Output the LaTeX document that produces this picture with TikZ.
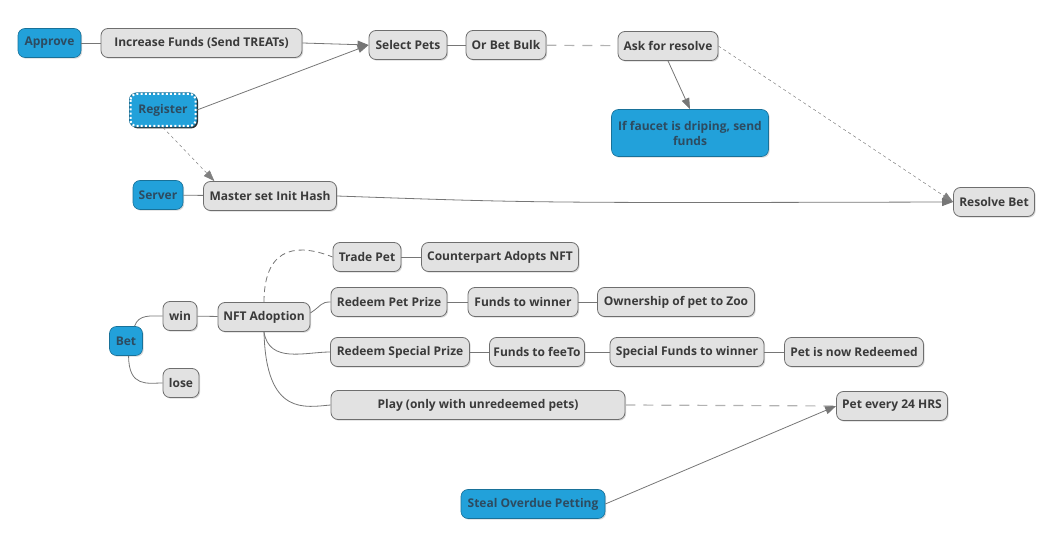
\documentclass[tikz,border=0pt]{standalone}
\usepackage{fontspec}
\setmainfont{Open Sans}
\usetikzlibrary{arrows.meta,shadows}

\definecolor{boxgray}{HTML}{E2E2E2}
\definecolor{boxline}{HTML}{6E6E6E}
\definecolor{topicblue}{HTML}{22A1DA}
\definecolor{bluetext}{HTML}{2D4B60}
\definecolor{textgray}{HTML}{3A3A3A}
\definecolor{linkgray}{HTML}{767676}

\tikzset{
	box/.style={rounded corners=7pt, minimum height=29pt, inner sep=2pt,
		font=\fontsize{12}{15}\selectfont\bfseries,
		drop shadow={shadow xshift=1.2pt, shadow yshift=-1.2pt, opacity=0.3}},
	gbox/.style={box, fill=boxgray, draw=boxline, line width=0.8pt, text=textgray},
	bbox/.style={box, fill=topicblue, draw=topicblue!70!black, line width=0.6pt, text=bluetext},
	wd/.style={minimum width=#1},
	link/.style={draw=linkgray, line width=0.8pt},
	arr/.style={link, -{Triangle[length=11pt,width=8pt]}},
	longdash/.style={draw=gray!60, line width=1.2pt, dash pattern=on 10pt off 8pt},
}

\begin{document}
\begin{tikzpicture}[x=1pt, y=-1pt]
	\useasboundingbox (0,0) rectangle (1055,534);

	\node[bbox, wd=63] (approve) at (49.5,43) {Approve};
	\node[gbox, wd=201] (incfunds) at (201.5,43) {Increase Funds (Send TREATs)};
	\node[gbox, wd=78] (selpets) at (408,45) {Select Pets};
	\node[gbox, wd=80] (betbulk) at (506,45) {Or Bet Bulk};
	\node[gbox, wd=100] (askres) at (668,46) {Ask for resolve};
	\node[bbox, wd=157, minimum height=47pt, align=center] (faucet) at (690,133) {If faucet is driping, send\\funds};
	\node[bbox, wd=67, minimum height=34pt, line width=1pt,
		drop shadow={shadow xshift=1.5pt, shadow yshift=-1.5pt, opacity=0.8, fill=black}] (register) at (163,110) {Register};
	\draw[white, line width=2pt, rounded corners=6pt, dash pattern=on 2pt off 2.2pt]
		([shift={(1.5,1.5)}]register.north west) rectangle ([shift={(-1.5,-1.5)}]register.south east);
	\node[bbox, wd=50] (server) at (158,195) {Server};
	\node[gbox, wd=133] (mih) at (270,196) {Master set Init Hash};
	\node[gbox, wd=81] (resbet) at (994,202) {Resolve Bet};

	\node[bbox, wd=33] (bet) at (126,341) {Bet};
	\node[gbox, wd=34] (win) at (180,316) {win};
	\node[gbox, wd=36] (lose) at (181,383) {lose};
	\node[gbox, wd=92] (nft) at (264,317) {NFT Adoption};
	\node[gbox, wd=68] (trade) at (367,257) {Trade Pet};
	\node[gbox, wd=157] (cpart) at (500,257) {Counterpart Adopts NFT};
	\node[gbox, wd=116] (rpp) at (389,302) {Redeem Pet Prize};
	\node[gbox, wd=110] (fwin) at (523,302) {Funds to winner};
	\node[gbox, wd=157] (owner) at (676,302) {Ownership of pet to Zoo};
	\node[gbox, wd=139] (rsp) at (400,352) {Redeem Special Prize};
	\node[gbox, wd=95] (ffee) at (537,352) {Funds to feeTo};
	\node[gbox, wd=154] (sfwin) at (687,352) {Special Funds to winner};
	\node[gbox, wd=139] (redeemed) at (854,352) {Pet is now Redeemed};
	\node[gbox, wd=294] (play) at (478,405) {Play (only with unredeemed pets)};
	\node[gbox, wd=111] (pet24) at (892,406) {Pet every 24 HRS};
	\node[bbox, wd=144] (steal) at (533,504) {Steal Overdue Petting};

	\foreach \a/\b in {approve/incfunds, selpets/betbulk, server/mih, win/nft,
		trade/cpart, rpp/fwin, fwin/owner, rsp/ffee, ffee/sfwin, sfwin/redeemed} {
		\draw[link] (\a) -- (\b);
	}

	\draw[arr] (incfunds.east) -- (selpets.west);
	\draw[arr] (register.east) -- (selpets.west);
	\draw[longdash] (betbulk) -- (askres);
	\draw[arr] (askres.south) -- (faucet.north);
	\draw[arr, draw=gray, line width=0.5pt, dash pattern=on 3pt off 3pt] (askres.east) -- (resbet.west);
	\draw[arr, draw=gray, line width=0.5pt, dash pattern=on 3pt off 3pt] (register.south) -- (mih.165);
	\draw[arr] (mih.east) .. controls +(200,7) .. (resbet.west);

	\draw[link] (bet.60) .. controls +(4,-12) and +(-12,0) .. (win.west);
	\draw[link] (bet.-80) .. controls +(0,32) and +(-15,0) .. (lose.west);
	\draw[link, dash pattern=on 6pt off 4pt] (nft.north) .. controls +(0,-60) and +(-30,-12) .. (trade.west);
	\draw[link] ([yshift=4pt]nft.east) .. controls +(12,-8) and +(-10,0) .. (rpp.west);
	\draw[link] (nft.south) .. controls +(5,32) and +(-25,0) .. (rsp.west);
	\draw[link] (nft.south) .. controls +(2,85) and +(-25,2) .. (play.west);
	\draw[longdash] (play.east) -- (pet24.west);
	\draw[arr] (steal.east) -- (pet24.west);
\end{tikzpicture}
\end{document}
